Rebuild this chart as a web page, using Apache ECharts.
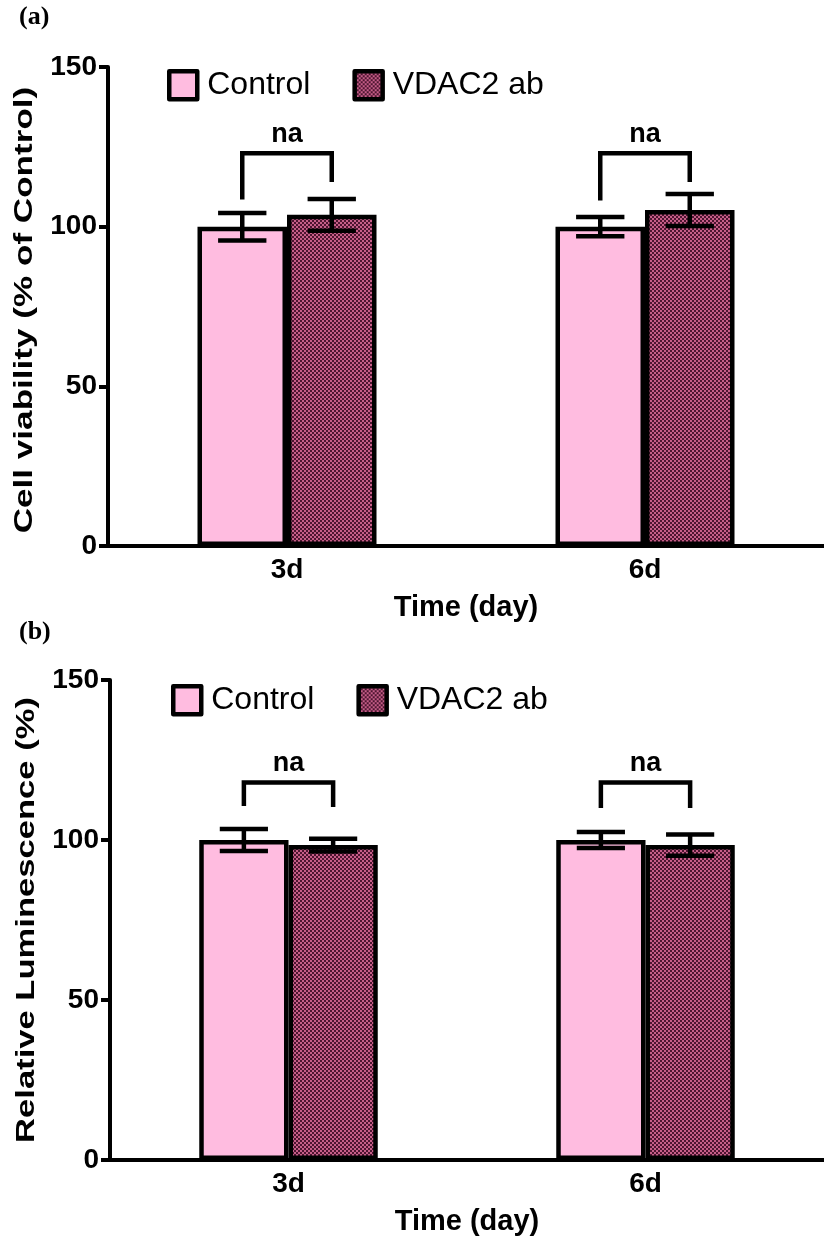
<!DOCTYPE html>
<html><head><meta charset="utf-8">
<script src="https://cdn.jsdelivr.net/npm/echarts@6/dist/echarts.min.js"></script>
<style>html,body{margin:0;padding:0;background:#fff}#c{width:824px;height:1249px}</style>
</head><body><div id="c"></div>
<script>
const categories = ['3d', '6d'];
const yTicks = [0, 50, 100, 150];
// Panel (a): Cell viability (% of Control)
const controlA = [100, 100];
const controlErrA = [4.3, 3.0];
const vdacA = [103.7, 105.2];
const vdacErrA = [5.0, 5.0];
const bracketTopA = [123, 123];
const bracketLeftA = [108.5, 108.2];
const bracketRightA = [114, 114];
// Panel (b): Relative Luminescence (%)
const controlB = [100, 100];
const controlErrB = [3.4, 2.5];
const vdacB = [98.4, 98.4];
const vdacErrB = [2.0, 3.3];
const bracketTopB = [118, 118];
const bracketLeftB = [110.6, 110.0];
const bracketRightB = [110.3, 110.0];
const sigLabel = 'na';

const FONT = "'Liberation Sans', Arial, sans-serif";
const pink = '#FFBCE0';

// checkered pattern for VDAC2 ab
const pc = document.createElement('canvas');
pc.width = 4; pc.height = 4;
const pctx = pc.getContext('2d');
pctx.fillStyle = '#c65e88'; pctx.fillRect(0, 0, 4, 4);
pctx.fillStyle = '#4d1530'; pctx.fillRect(0, 0, 2, 2); pctx.fillRect(2, 2, 2, 2);
const pattern = { image: pc, repeat: 'repeat' };

function errItem(params, api) {
  const idx = api.value(0), mean = api.value(1), err = api.value(2), side = api.value(3);
  const band = api.size([1, 0])[0];
  const barW = band * 0.25;
  const cx = api.coord([idx, 0])[0] + side * barW / 2;
  const yHi = api.coord([idx, mean + err])[1];
  const yLo = api.coord([idx, mean - err])[1];
  const cap = barW * 0.27;
  const st = { stroke: '#000', lineWidth: 4.5 };
  return { type: 'group', children: [
    { type: 'line', shape: { x1: cx, y1: yHi, x2: cx, y2: yLo }, style: st },
    { type: 'line', shape: { x1: cx - cap, y1: yHi, x2: cx + cap, y2: yHi }, style: st },
    { type: 'line', shape: { x1: cx - cap, y1: yLo, x2: cx + cap, y2: yLo }, style: st }
  ]};
}
function bracketItem(params, api) {
  const idx = api.value(0);
  const band = api.size([1, 0])[0];
  const barW = band * 0.25;
  const x0 = api.coord([idx, 0])[0];
  const xl = x0 - barW / 2, xr = x0 + barW / 2;
  const yt = api.coord([idx, api.value(1)])[1];
  const yl = api.coord([idx, api.value(2)])[1];
  const yr = api.coord([idx, api.value(3)])[1];
  return { type: 'group', children: [
    { type: 'polyline', shape: { points: [[xl, yl], [xl, yt], [xr, yt], [xr, yr]] },
      style: { stroke: '#000', lineWidth: 4.5, fill: null } },
    { type: 'text', style: { text: sigLabel, x: x0, y: yt - 5, align: 'center', verticalAlign: 'bottom',
      font: 'bold 27px ' + FONT, fill: '#000' } }
  ]};
}

function errData(means, errs, side) { return means.map((m, i) => [i, m, errs[i], side]); }
function brData(t, l, r) { return t.map((v, i) => [i, v, l[i], r[i]]); }

const axisLineStyle = { color: '#000', width: 4 };
function xAx(gi) {
  return { type: 'category', gridIndex: gi, data: categories,
    axisLine: { lineStyle: axisLineStyle }, axisTick: { alignWithLabel: true, length: 9, lineStyle: axisLineStyle },
    axisLabel: { color: '#000', fontSize: 28, fontWeight: 'bold', fontFamily: FONT, margin: 10 },
    name: 'Time (day)', nameLocation: 'middle', nameGap: 47,
    nameTextStyle: { color: '#000', fontSize: 29, fontWeight: 'bold', fontFamily: FONT } };
}
function yAx(gi) {
  return { type: 'value', gridIndex: gi, min: 0, max: 150, interval: 50,
    axisLine: { show: true, lineStyle: axisLineStyle }, axisTick: { show: true, length: 9, lineStyle: axisLineStyle },
    splitLine: { show: false },
    axisLabel: { color: '#000', fontSize: 28, fontWeight: 'bold', fontFamily: FONT, margin: 11,
      formatter: v => yTicks.includes(v) ? String(v) : '' } };
}
function barSeries(name, data, gi, color) {
  return { type: 'bar', name: name, data: data, xAxisIndex: gi, yAxisIndex: gi,
    barWidth: '25%', barGap: '0%', itemStyle: { color: color, borderColor: '#000', borderWidth: 4.5 }, z: 2 };
}
function legend(gi, left, top) {
  return { left: left, top: top, itemWidth: 28, itemHeight: 28, itemGap: 42, icon: 'rect',
    data: ['Control', 'VDAC2 ab'].map(n => ({ name: n })),
    itemStyle: { borderColor: '#000', borderWidth: 4.5, borderJoin: 'round' },
    textStyle: { color: '#000', fontSize: 32, fontFamily: FONT, padding: [0, 0, 0, 5] },
    selectedMode: false };
}

const chart = echarts.init(document.getElementById('c'));
chart.setOption({
  animation: false,
  grid: [
    { left: 108, top: 67, width: 722, height: 479 },
    { left: 110, top: 680, width: 720, height: 480 }
  ],
  xAxis: [xAx(0), xAx(1)],
  yAxis: [yAx(0), yAx(1)],
  legend: [legend(0, 162, 64), legend(1, 166, 679)],
  graphic: [
    { type: 'text', left: 19, top: 4, style: { text: '(a)', font: 'bold 26px "Liberation Serif", "Times New Roman", serif', fill: '#000' } },
    { type: 'text', left: 19, top: 619, style: { text: '(b)', font: 'bold 26px "Liberation Serif", "Times New Roman", serif', fill: '#000' } },
    { type: 'text', x: 25, y: 310, rotation: Math.PI / 2, scaleX: 1.35, scaleY: 1,
      style: { text: 'Cell viability (% of Control)', font: 'bold 26px ' + FONT, fill: '#000', align: 'center', verticalAlign: 'middle' } },
    { type: 'text', x: 27, y: 920, rotation: Math.PI / 2, scaleX: 1.33, scaleY: 1,
      style: { text: 'Relative Luminescence (%)', font: 'bold 26px ' + FONT, fill: '#000', align: 'center', verticalAlign: 'middle' } }
  ],
  series: [
    barSeries('Control', controlA, 0, pink),
    barSeries('VDAC2 ab', vdacA, 0, pattern),
    barSeries('Control', controlB, 1, pink),
    barSeries('VDAC2 ab', vdacB, 1, pattern),
    { type: 'custom', xAxisIndex: 0, yAxisIndex: 0, renderItem: errItem, data: errData(controlA, controlErrA, -1), z: 5, silent: true },
    { type: 'custom', xAxisIndex: 0, yAxisIndex: 0, renderItem: errItem, data: errData(vdacA, vdacErrA, 1), z: 5, silent: true },
    { type: 'custom', xAxisIndex: 1, yAxisIndex: 1, renderItem: errItem, data: errData(controlB, controlErrB, -1), z: 5, silent: true },
    { type: 'custom', xAxisIndex: 1, yAxisIndex: 1, renderItem: errItem, data: errData(vdacB, vdacErrB, 1), z: 5, silent: true },
    { type: 'custom', xAxisIndex: 0, yAxisIndex: 0, renderItem: bracketItem, data: brData(bracketTopA, bracketLeftA, bracketRightA), z: 5, silent: true },
    { type: 'custom', xAxisIndex: 1, yAxisIndex: 1, renderItem: bracketItem, data: brData(bracketTopB, bracketLeftB, bracketRightB), z: 5, silent: true }
  ]
});
</script></body></html>
